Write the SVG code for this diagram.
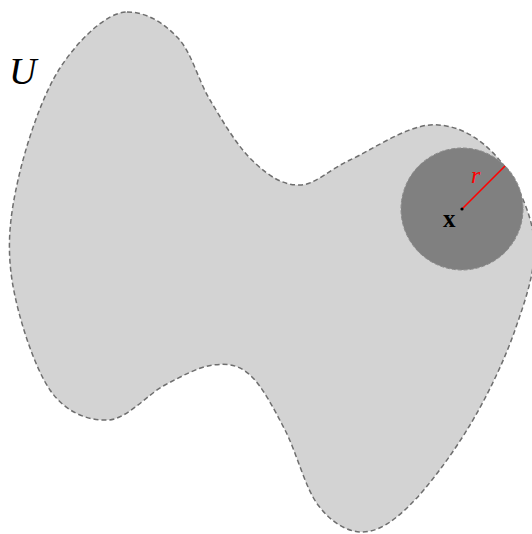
<svg xmlns="http://www.w3.org/2000/svg" width="532" height="534" viewBox="0 0 532 534">
  <style>
    .region { fill: #d3d3d3; stroke: #6e6e6e; stroke-width: 1.5; stroke-dasharray: 5 3; }
    .ball { fill: #808080; stroke: #8a8a8a; stroke-width: 1; stroke-dasharray: 4 2; }
    .lbl { font-family: "Liberation Serif", "Times New Roman", serif; }
  </style>
  <rect width="532" height="534" fill="#ffffff"/>
  <g id="U">
    <path class="region" d="M 127 12 C 147 12 164.2 23.3 178 38 C 191.8 52.7 198 80 210 100 C 222 120 238 148 255 163 C 270 177.2 284.2 185.5 300 185 C 315.8 184.5 328.3 170 350 160 C 371.7 150 405 126.7 430 125 C 455 123.3 478 136 496 156 C 514 176 531.5 210.8 534 240 C 536.5 269.2 525.7 299.2 515 330 C 504.3 360.8 487.5 395.8 470 425 C 452.5 454.2 428 487.2 410 505 C 392 522.8 377.3 532 362 532 C 346.7 532 330.8 522 318 505 C 305.2 488 296.3 451.7 285 430 C 273.7 408.3 262 385.8 250 375 C 238 364.2 227.2 363.3 213 365 C 198.8 366.7 182.5 375.8 165 385 C 147.5 394.2 127.2 419.2 108 420 C 88.8 420.8 66 413.3 50 390 C 34 366.7 17.3 315 12 280 C 6.7 245 10 215.3 18 180 C 26 144.7 41.8 96 60 68 C 78.2 40 107 12 127 12 Z"/>
    <text class="lbl" x="9" y="84" font-size="38" font-style="italic">U</text>
  </g>
  <g id="ball">
    <circle class="ball" cx="462" cy="209" r="61"/>
    <line x1="462" y1="209" x2="505" y2="166" stroke="#ff0000" stroke-width="1.6"/>
    <circle cx="462" cy="209" r="1.6" fill="#000000"/>
    <text class="lbl" x="471" y="183" font-size="24" font-style="italic" fill="#ff0000">r</text>
    <text class="lbl" x="443" y="227" font-size="25" font-weight="bold" fill="#000000">x</text>
  </g>
</svg>
